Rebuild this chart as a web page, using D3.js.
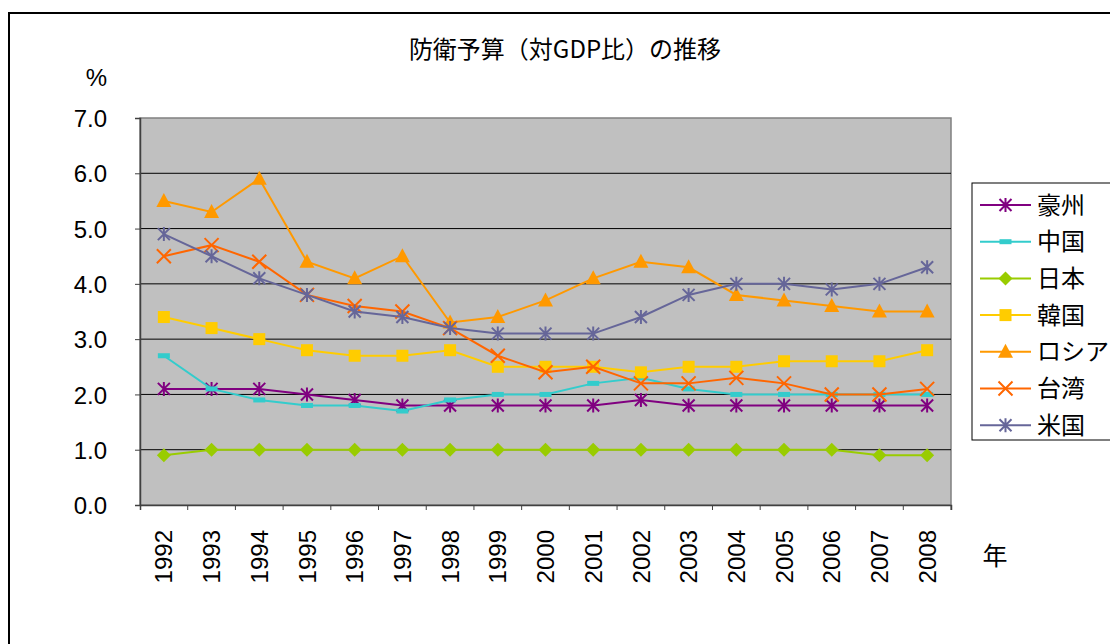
<!DOCTYPE html>
<html><head><meta charset="utf-8">
<script src="https://cdn.jsdelivr.net/npm/d3@7"></script>
<style>
html,body{margin:0;padding:0;background:#fff;}
svg text{font-family:"Liberation Sans",Arial,sans-serif;}
svg text.jp{font-family:"Noto Sans CJK JP","Noto Sans",sans-serif;}
</style></head>
<body>
<svg id="chart" width="1110" height="644"></svg>
<script>
const years = ["1992","1993","1994","1995","1996","1997","1998","1999","2000","2001","2002","2003","2004","2005","2006","2007","2008"];
const yTicks = [0,1,2,3,4,5,6,7];
const seriesNames = ["豪州","中国","日本","韓国","ロシア","台湾","米国"];
const australia = [2.1,2.1,2.1,2.0,1.9,1.8,1.8,1.8,1.8,1.8,1.9,1.8,1.8,1.8,1.8,1.8,1.8];
const china     = [2.7,2.1,1.9,1.8,1.8,1.7,1.9,2.0,2.0,2.2,2.3,2.1,2.0,2.0,2.0,2.0,2.0];
const japan     = [0.9,1.0,1.0,1.0,1.0,1.0,1.0,1.0,1.0,1.0,1.0,1.0,1.0,1.0,1.0,0.9,0.9];
const korea     = [3.4,3.2,3.0,2.8,2.7,2.7,2.8,2.5,2.5,2.5,2.4,2.5,2.5,2.6,2.6,2.6,2.8];
const russia    = [5.5,5.3,5.9,4.4,4.1,4.5,3.3,3.4,3.7,4.1,4.4,4.3,3.8,3.7,3.6,3.5,3.5];
const taiwan    = [4.5,4.7,4.4,3.8,3.6,3.5,3.2,2.7,2.4,2.5,2.2,2.2,2.3,2.2,2.0,2.0,2.1];
const usa       = [4.9,4.5,4.1,3.8,3.5,3.4,3.2,3.1,3.1,3.1,3.4,3.8,4.0,4.0,3.9,4.0,4.3];
const seriesValues = [australia,china,japan,korea,russia,taiwan,usa];
const colors  = ["#800080","#33CCCC","#99CC00","#FFCC00","#FF9900","#FF6600","#666699"];
const markers = ["asterisk","dash","diamond","square","triangle","x","asterisk"];

const svg = d3.select("#chart");
// outer frame
svg.append("rect").attr("x",9).attr("y",13).attr("width",1110).attr("height",700)
  .attr("fill","none").attr("stroke","#000").attr("stroke-width",2);

const L=140, R=951, T=118, B=505;
const x = d3.scaleBand().domain(years).range([L,R]).padding(0);
const y = d3.scaleLinear().domain([0,7]).range([B,T]);

svg.append("rect").attr("x",L).attr("y",T).attr("width",R-L).attr("height",B-T)
  .attr("fill","#C0C0C0").attr("stroke","#808080").attr("stroke-width",1.5);

// gridlines
svg.append("g").selectAll("line").data(yTicks.filter(d=>d>0&&d<7)).join("line")
  .attr("x1",L).attr("x2",R).attr("y1",d=>y(d)).attr("y2",d=>y(d))
  .attr("stroke","#000").attr("stroke-width",1);

// y axis
const ya = svg.append("g").attr("transform",`translate(${L},0)`)
  .call(d3.axisLeft(y).tickValues(yTicks).tickFormat(d3.format(".1f")).tickSize(5).tickPadding(28));
ya.select(".domain").attr("stroke","#404040").attr("stroke-width",1.5);
ya.selectAll(".tick line").attr("stroke","#404040");
ya.selectAll("text").attr("font-size",24).attr("fill","#000").attr("dy","0.36em");

// x axis
const xa = svg.append("g").attr("transform",`translate(0,${B})`)
  .call(d3.axisBottom(x).tickSize(5).tickSizeOuter(5));
xa.select(".domain").attr("stroke","#404040").attr("stroke-width",1.5);
xa.selectAll(".tick line").attr("stroke","#404040").attr("transform",`translate(${x.bandwidth()/2},0)`);
xa.selectAll(".tick text").attr("font-size",24).attr("fill","#000")
  .attr("transform","translate(0,25) rotate(-90)").attr("text-anchor","end").attr("x",0).attr("y",0).attr("dy","0.36em");

// marker drawing
function drawMarker(g, type, color){
  if(type==="asterisk"){
    const a=6;
    g.append("path").attr("d",`M${-a},${-a}L${a},${a}M${-a},${a}L${a},${-a}M0,${-a-1}L0,${a+1}`)
      .attr("stroke",color).attr("stroke-width",2).attr("fill","none");
  } else if(type==="x"){
    const a=7;
    g.append("path").attr("d",`M${-a},${-a}L${a},${a}M${-a},${a}L${a},${-a}`)
      .attr("stroke",color).attr("stroke-width",2).attr("fill","none");
  } else if(type==="dash"){
    g.append("rect").attr("x",-6).attr("y",-2.5).attr("width",12).attr("height",5).attr("fill",color);
  } else if(type==="diamond"){
    g.append("path").attr("d","M0,-7L7,0L0,7L-7,0Z").attr("fill",color);
  } else if(type==="square"){
    g.append("rect").attr("x",-6).attr("y",-6).attr("width",12).attr("height",12).attr("fill",color);
  } else if(type==="triangle"){
    g.append("path").attr("d","M0,-8L7.5,6L-7.5,6Z").attr("fill",color);
  }
}

const line = d3.line().x((d,i)=>x(years[i])+x.bandwidth()/2).y(d=>y(d));
seriesValues.forEach((vals,si)=>{
  const g = svg.append("g");
  g.append("path").datum(vals).attr("d",line).attr("fill","none")
    .attr("stroke",colors[si]).attr("stroke-width",2);
  vals.forEach((v,i)=>{
    const mg = g.append("g").attr("transform",`translate(${x(years[i])+x.bandwidth()/2},${y(v)})`);
    drawMarker(mg, markers[si], colors[si]);
  });
});

// title
svg.append("text").attr("class","jp").attr("x",565).attr("y",58).attr("text-anchor","middle")
  .attr("font-size",24).text("防衛予算（対GDP比）の推移");
svg.append("text").attr("x",107).attr("y",86).attr("text-anchor","end").attr("font-size",24).text("%");
svg.append("text").attr("class","jp").attr("x",995).attr("y",565).attr("text-anchor","middle").attr("font-size",25).text("年");

// legend
const lg = svg.append("g");
lg.append("rect").attr("x",972).attr("y",183).attr("width",160).attr("height",257)
  .attr("fill","#fff").attr("stroke","#000").attr("stroke-width",1);
seriesNames.forEach((n,i)=>{
  const cy = 205 + i*36.7;
  lg.append("line").attr("x1",980).attr("x2",1031).attr("y1",cy).attr("y2",cy).attr("stroke",colors[i]).attr("stroke-width",2);
  const mg = lg.append("g").attr("transform",`translate(1005.5,${cy})`);
  drawMarker(mg, markers[i], colors[i]);
  lg.append("text").attr("class","jp").attr("x",1037).attr("y",cy).attr("dy","0.36em").attr("font-size",24).text(n);
});
</script>
</body></html>
